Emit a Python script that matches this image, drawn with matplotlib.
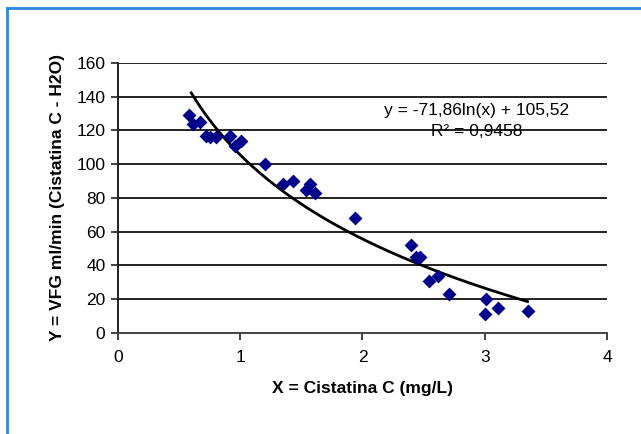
import numpy as np
import matplotlib
matplotlib.use("Agg")
import matplotlib.pyplot as plt

plt.rcParams['font.family'] = ['Liberation Sans', 'DejaVu Sans']

# cistatina C (mg/L) vs VFG (ml/min)
cist = [0.58, 0.61, 0.67, 0.72, 0.75, 0.80, 0.92, 0.96, 1.01, 1.20,
        1.35, 1.43, 1.54, 1.57, 1.61, 1.94, 2.40, 2.44, 2.47, 2.54,
        2.62, 2.71, 3.00, 3.01, 3.11, 3.35]
vfg = [129, 124, 125, 117, 116, 116, 117, 111, 114, 100,
       88, 90, 85, 88, 83, 68, 52, 45, 45, 31,
       34, 23, 11, 20, 15, 13]

coef_a = -71.86
coef_b = 105.52
eq_text = "y = -71,86ln(x) + 105,52"
r2_text = "R² = 0,9458"

fig = plt.figure(figsize=(6.41, 4.34), dpi=100)
ax = fig.add_axes([0.184, 0.2327, 0.763, 0.6223])

for yv in range(20, 161, 20):
    ax.axhline(yv, color='#222222', lw=1.4, zorder=1)

xs = np.linspace(0.6, 3.35, 200)
ax.plot(xs, coef_a * np.log(xs) + coef_b, color='black', lw=2, zorder=2)
ax.scatter(cist, vfg, marker='D', s=50, color='#00008b', zorder=3, linewidths=0)

ax.set_xlim(0, 4)
ax.set_ylim(0, 160)
ax.set_xticks([0, 1, 2, 3, 4])
ax.set_yticks(range(0, 161, 20))
ax.tick_params(direction='out', length=5, width=1.2, labelsize=12.5, color='#222222')
ax.tick_params(axis='y', pad=4)
ax.tick_params(axis='x', pad=7)

for s in ['top', 'right']:
    ax.spines[s].set_visible(False)
ax.spines['left'].set_color('#222222')
ax.spines['left'].set_linewidth(1.4)
ax.spines['bottom'].set_color('#444444')
ax.spines['bottom'].set_linewidth(1.4)

ax.set_xlabel("X = Cistatina C (mg/L)", fontsize=12.5, fontweight='bold', labelpad=12)
ax.set_ylabel("Y = VFG ml/min (Cistatina C - H2O)", fontsize=12.5, fontweight='bold', labelpad=8)

ax.text(2.93, 132, eq_text, fontsize=12.5, ha='center', va='center')
ax.text(2.93, 119.5, r2_text, fontsize=12.5, ha='center', va='center')

# blue frame around the figure
fig.add_artist(plt.Line2D([7 / 641, 7 / 641], [0, 1 - 8 / 434], transform=fig.transFigure,
                          color='#2a8ae0', lw=2))
fig.add_artist(plt.Line2D([7 / 641, 1], [1 - 8 / 434, 1 - 8 / 434], transform=fig.transFigure,
                          color='#2a8ae0', lw=2))

fig.savefig("out.png", dpi=100)
